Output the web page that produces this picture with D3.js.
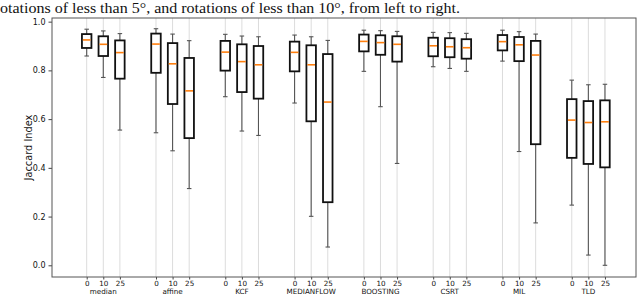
<!DOCTYPE html>
<html><head><meta charset="utf-8">
<script src="https://cdn.jsdelivr.net/npm/d3@7"></script>
<style>body{margin:0;background:#fff;overflow:hidden}svg{display:block}</style>
</head><body>
<script>
const categories = ["median","affine","KCF","MEDIANFLOW","BOOSTING","CSRT","MIL","TLD"];
const rotations = ["0","10","25"];
// per category, per rotation: [whiskerLow, q1, median, q3, whiskerHigh]
const whiskerLow = [[0.859,0.771,0.555],[0.544,0.470,0.315],[0.692,0.551,0.533],[0.666,0.201,0.075],[0.796,0.651,0.418],[0.815,0.808,0.796],[0.838,0.467,0.174],[0.247,0.042,0.000]];
const q1 =         [[0.892,0.859,0.766],[0.790,0.662,0.522],[0.799,0.711,0.684],[0.796,0.591,0.259],[0.878,0.864,0.836],[0.858,0.854,0.848],[0.882,0.838,0.497],[0.441,0.416,0.402]];
const medians =    [[0.925,0.907,0.873],[0.908,0.827,0.716],[0.875,0.836,0.823],[0.874,0.823,0.670],[0.919,0.914,0.907],[0.901,0.897,0.893],[0.918,0.905,0.863],[0.596,0.586,0.589]];
const q3 =         [[0.949,0.940,0.923],[0.951,0.912,0.851],[0.921,0.907,0.900],[0.918,0.903,0.867],[0.947,0.944,0.940],[0.934,0.932,0.928],[0.945,0.937,0.921],[0.682,0.674,0.677]];
const whiskerHigh =[[0.969,0.962,0.951],[0.971,0.949,0.922],[0.948,0.941,0.938],[0.945,0.938,0.923],[0.965,0.963,0.960],[0.956,0.955,0.952],[0.965,0.959,0.949],[0.760,0.741,0.743]];
const yTicks = [0.0,0.2,0.4,0.6,0.8,1.0];
const titleText = "otations of less than 5°, and rotations of less than 10°, from left to right.";
const yLabel = "Jaccard Index";

const W = 640, H = 296;
const plot = {left:52, right:636, top:18, bottom:277};
const groupGap = 4.175;
const svg = d3.select("body").append("svg").attr("width",W).attr("height",H);

const boxes = [];
categories.forEach((c,g)=>rotations.forEach((r,k)=>{
  boxes.push({cat:c, rot:r, g, k, pos:g*groupGap+k,
    lo:whiskerLow[g][k], q1:q1[g][k], med:medians[g][k], q3:q3[g][k], hi:whiskerHigh[g][k]});
}));

const x = d3.scaleLinear().domain([-2.09, 7*groupGap+2+1.87]).range([plot.left, plot.right]);
const y = d3.scaleLinear().domain([-0.048, 1.015]).range([plot.bottom, plot.top]);

// title
svg.append("text").attr("x",0).attr("y",12.5)
  .attr("font-family","'Liberation Serif','DejaVu Serif',serif").attr("font-size",14)
  .attr("textLength",460).attr("lengthAdjust","spacingAndGlyphs")
  .attr("fill","#111").text(titleText);

// grid
svg.append("g").selectAll("line").data(boxes).join("line")
  .attr("x1",d=>x(d.pos)).attr("x2",d=>x(d.pos))
  .attr("y1",plot.top).attr("y2",plot.bottom)
  .attr("stroke","#dcdcdc").attr("stroke-width",1);

// axes
const yAxis = d3.axisLeft(y).tickValues(yTicks).tickFormat(d3.format(".1f")).tickSize(3.5).tickPadding(3);
const gy = svg.append("g").attr("transform",`translate(${plot.left},0)`).call(yAxis);
gy.select(".domain").remove();
gy.selectAll("line").attr("stroke","#444");
gy.selectAll("text").attr("font-family","'DejaVu Sans',sans-serif").attr("font-size",8).attr("fill","#111");

const xAxis = d3.axisBottom(x).tickValues(boxes.map(d=>d.pos)).tickFormat((d,i)=>boxes[i].rot).tickSize(2.5).tickPadding(1);
const gx = svg.append("g").attr("transform",`translate(0,${plot.bottom})`).call(xAxis);
gx.select(".domain").remove();
gx.selectAll("line").attr("stroke","#444");
gx.selectAll("text").attr("font-family","'DejaVu Sans',sans-serif").attr("font-size",7.2).attr("fill","#111");

// category names
svg.append("g").selectAll("text").data(categories).join("text")
  .attr("x",(c,g)=>x(g*groupGap+1)).attr("y",294.3).attr("text-anchor","middle")
  .attr("font-family","'DejaVu Sans',sans-serif").attr("font-size",7.2).attr("fill","#111")
  .text(c=>c);

// frame
svg.append("rect").attr("x",plot.left).attr("y",plot.top)
  .attr("width",plot.right-plot.left).attr("height",plot.bottom-plot.top)
  .attr("fill","none").attr("stroke","#555").attr("stroke-width",1);

// y label
svg.append("text").attr("transform",`translate(32,${(plot.top+plot.bottom)/2}) rotate(-90)`)
  .attr("text-anchor","middle").attr("font-family","'DejaVu Sans',sans-serif").attr("font-size",9.8)
  .attr("fill","#111").text(yLabel);

// boxes
const bw = 9.5, cw = 4.5;
const gb = svg.append("g").selectAll("g").data(boxes).join("g");
gb.append("line").attr("x1",d=>x(d.pos)).attr("x2",d=>x(d.pos))
  .attr("y1",d=>y(d.hi)).attr("y2",d=>y(d.q3)).attr("stroke","#555").attr("stroke-width",1.1);
gb.append("line").attr("x1",d=>x(d.pos)).attr("x2",d=>x(d.pos))
  .attr("y1",d=>y(d.q1)).attr("y2",d=>y(d.lo)).attr("stroke","#555").attr("stroke-width",1.1);
gb.append("line").attr("x1",d=>x(d.pos)-cw/2).attr("x2",d=>x(d.pos)+cw/2)
  .attr("y1",d=>y(d.hi)).attr("y2",d=>y(d.hi)).attr("stroke","#555").attr("stroke-width",1.1);
gb.append("line").attr("x1",d=>x(d.pos)-cw/2).attr("x2",d=>x(d.pos)+cw/2)
  .attr("y1",d=>y(d.lo)).attr("y2",d=>y(d.lo)).attr("stroke","#555").attr("stroke-width",1.1);
gb.append("rect").attr("x",d=>x(d.pos)-bw/2).attr("width",bw)
  .attr("y",d=>y(d.q3)).attr("height",d=>y(d.q1)-y(d.q3))
  .attr("fill","#fff").attr("stroke","#111").attr("stroke-width",1.8);
gb.append("line").attr("x1",d=>x(d.pos)-bw/2+0.9).attr("x2",d=>x(d.pos)+bw/2-0.9)
  .attr("y1",d=>y(d.med)).attr("y2",d=>y(d.med)).attr("stroke","#ff7f0e").attr("stroke-width",1.6);
</script>
</body></html>
